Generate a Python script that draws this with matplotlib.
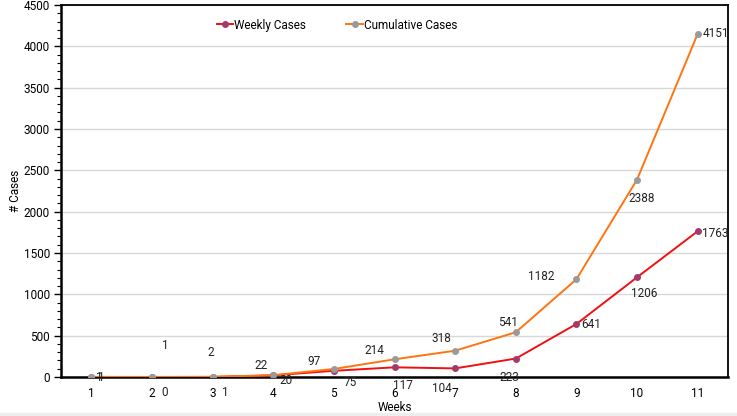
import numpy as np
import matplotlib.pyplot as plt
from matplotlib.transforms import Bbox, TransformedBbox
from matplotlib.patches import Rectangle
from matplotlib.ticker import MultipleLocator

plt.rcParams['font.family'] = ['Roboto', 'DejaVu Sans']

weeks = [1, 2, 3, 4, 5, 6, 7, 8, 9, 10, 11]
weekly = [1, 0, 1, 20, 75, 117, 104, 223, 641, 1206, 1763]
cumulative = [1, 1, 2, 22, 97, 214, 318, 541, 1182, 2388, 4151]

# label offsets (pixels), copied from where the labels sit in the original
weekly_off = [(10, -1), (13, -16), (13, -16), (13, -5), (16, -12), (8, -18),
              (-13, -20), (-6, -19), (15, 0), (7, -16), (18, -2)]
cum_off = [(8, -1), (13, 31), (-2, 24), (-12, 10), (-20, 7), (-20, 9),
           (-14, 12), (-8, 10), (-35, 3), (5, -19), (18, 0)]

fig = plt.figure(figsize=(7.37, 4.16), dpi=100)
L, R, B, T = 61 / 737, 728 / 737, 39 / 416, 411 / 416
ax = fig.add_axes([L, B, R - L, T - B])

fig.patches.append(Rectangle((0, 0), 1, 3 / 416, transform=fig.transFigure,
                             color='#eeeeee', zorder=0))

ax.plot(weeks, weekly, color='#f01010', lw=1.4, marker='o', ms=4,
        mfc='#a33a6a', mec='#a33a6a', label='Weekly Cases', zorder=3)
ax.plot(weeks, cumulative, color='#ff7410', lw=1.4, marker='o', ms=4,
        mfc='#9a9a9a', mec='#9a9a9a', label='Cumulative Cases', zorder=3)

clip = TransformedBbox(Bbox([[0, 0], [R, 1]]), fig.transFigure)
for vals, offs in ((weekly, weekly_off), (cumulative, cum_off)):
    for x, v, (dx, dy) in zip(weeks, vals, offs):
        t = ax.annotate(str(v), (x, v), xytext=(dx, dy), textcoords='offset pixels',
                        ha='center', va='center', fontsize=8.5, color='#222222',
                        annotation_clip=False)
        t.set_clip_box(clip)
        t.set_clip_on(True)

ax.set_xlim(0.5, 11.5)
ax.set_ylim(0, 4500)
ax.set_xticks(weeks)
ax.yaxis.set_major_locator(MultipleLocator(500))
ax.yaxis.set_minor_locator(MultipleLocator(100))
ax.tick_params(axis='x', length=0, pad=7, labelsize=8.5)
ax.tick_params(axis='y', which='major', length=5, width=1, labelsize=8.5, pad=3)
ax.tick_params(axis='y', which='minor', length=3, width=0.8)
ax.grid(axis='y', color='#d8d8d8', lw=1)
ax.set_axisbelow(True)
for s in ax.spines.values():
    s.set_color('black')
    s.set_linewidth(1.3)
ax.spines['left'].set_linewidth(1.8)
ax.spines['bottom'].set_linewidth(1.8)

ax.set_xlabel('Weeks', fontsize=8.5, labelpad=1)
ax.set_ylabel('# Cases', fontsize=8.5, labelpad=1)

ax.legend(loc='center', bbox_to_anchor=(0.414, 0.946), ncol=2, frameon=False,
          fontsize=8.5, handlelength=1.4, handletextpad=0.1, columnspacing=3.4)

fig.savefig('out.png', dpi=100)
